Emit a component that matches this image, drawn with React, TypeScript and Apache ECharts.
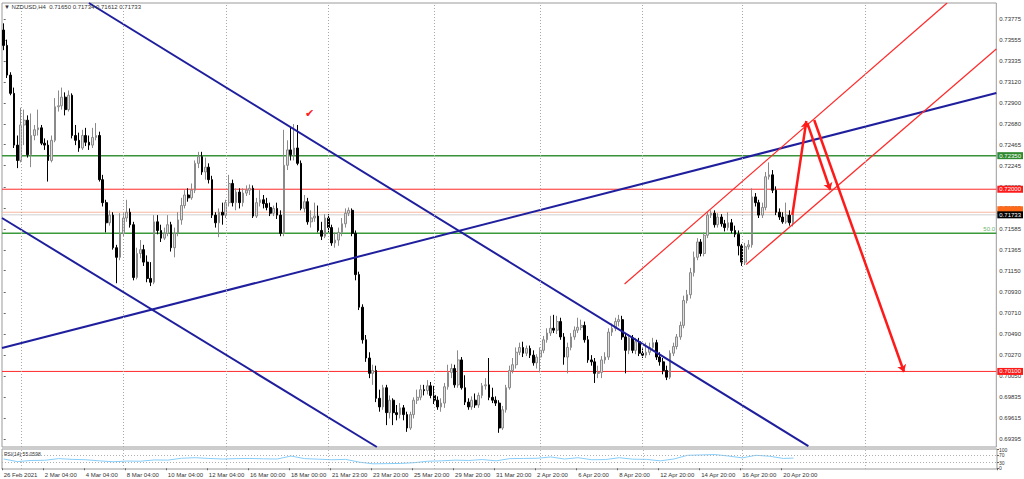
import React, { useEffect, useRef } from "react";
import * as echarts from "echarts";

// NZDUSD H4 candles, prices in pips (value / 10000)
const opens = [
  7366, 7350, 7319, 7300, 7246, 7230, 7267, 7272, 7236, 7256,
  7262, 7264, 7248, 7246, 7230, 7251, 7286, 7287, 7296, 7283,
  7298, 7256, 7251, 7243, 7256, 7249, 7246, 7254, 7256, 7210,
  7186, 7165, 7173, 7139, 7129, 7154, 7170, 7176, 7163, 7108,
  7133, 7137, 7124, 7107, 7103, 7166, 7157, 7149, 7154, 7163,
  7139, 7154, 7168, 7183, 7194, 7191, 7199, 7227, 7234, 7218,
  7223, 7210, 7173, 7165, 7176, 7173, 7186, 7206, 7186, 7197,
  7186, 7196, 7199, 7201, 7172, 7186, 7189, 7185, 7181, 7175,
  7180, 7173, 7154, 7225, 7241, 7236, 7243, 7227, 7180, 7187,
  7166, 7170, 7172, 7157, 7151, 7170, 7160, 7144, 7147, 7155,
  7164, 7175, 7178, 7154, 7111, 7077, 7043, 7024, 7008, 7011,
  6982, 6973, 6993, 6967, 6980, 6967, 6965, 6972, 6965, 6951,
  6965, 6980, 6983, 6991, 6990, 6995, 6985, 6980, 6973, 6977,
  6994, 7009, 7013, 6996, 7022, 6993, 6978, 6973, 6980, 6975,
  6985, 6995, 6996, 6983, 6980, 6977, 6951, 6970, 6993, 7011,
  7017, 7030, 7035, 7029, 7034, 7027, 7019, 7025, 7032, 7043,
  7050, 7055, 7053, 7062, 7046, 7025, 7035, 7046, 7053, 7056,
  7058, 7043, 7022, 7020, 7008, 7009, 7022, 7025, 7051, 7055,
  7062, 7064, 7046, 7032, 7045, 7032, 7041, 7029, 7027, 7030,
  7035, 7040, 7025, 7020, 7011, 7004, 7029, 7036, 7046, 7058,
  7084, 7090, 7113, 7129, 7145, 7133, 7152, 7173, 7175, 7163,
  7171, 7164, 7160, 7165, 7157, 7153, 7141, 7124, 7140, 7142,
  7192, 7186, 7173, 7181, 7213, 7215, 7199, 7176, 7171, 7166,
  7173, 7165,
];
const closes = [
  7350, 7319, 7300, 7246, 7230, 7267, 7272, 7236, 7256, 7262,
  7264, 7248, 7246, 7230, 7251, 7286, 7287, 7296, 7283, 7298,
  7256, 7251, 7243, 7256, 7249, 7246, 7254, 7256, 7210, 7186,
  7165, 7173, 7139, 7129, 7154, 7170, 7176, 7163, 7108, 7133,
  7137, 7124, 7107, 7103, 7166, 7157, 7149, 7154, 7163, 7139,
  7154, 7168, 7183, 7194, 7191, 7199, 7227, 7234, 7218, 7223,
  7210, 7173, 7165, 7176, 7173, 7186, 7206, 7186, 7197, 7186,
  7196, 7199, 7201, 7172, 7186, 7189, 7185, 7181, 7175, 7180,
  7173, 7154, 7225, 7241, 7236, 7243, 7227, 7180, 7187, 7166,
  7170, 7172, 7157, 7151, 7170, 7160, 7144, 7147, 7155, 7164,
  7175, 7178, 7154, 7111, 7077, 7043, 7024, 7008, 7011, 6982,
  6973, 6993, 6967, 6980, 6967, 6965, 6972, 6965, 6951, 6965,
  6980, 6983, 6991, 6990, 6995, 6985, 6980, 6973, 6977, 6994,
  7009, 7013, 6996, 7022, 6993, 6978, 6973, 6980, 6975, 6985,
  6995, 6996, 6983, 6980, 6977, 6951, 6970, 6993, 7011, 7017,
  7030, 7035, 7029, 7034, 7027, 7019, 7025, 7032, 7043, 7050,
  7055, 7053, 7062, 7046, 7025, 7035, 7046, 7053, 7056, 7058,
  7043, 7022, 7020, 7008, 7009, 7022, 7025, 7051, 7055, 7062,
  7064, 7046, 7032, 7045, 7032, 7041, 7029, 7027, 7030, 7035,
  7040, 7025, 7020, 7011, 7004, 7029, 7036, 7046, 7058, 7084,
  7090, 7113, 7129, 7145, 7133, 7152, 7173, 7175, 7163, 7171,
  7164, 7160, 7165, 7157, 7153, 7141, 7124, 7140, 7142, 7192,
  7186, 7173, 7181, 7213, 7215, 7199, 7176, 7171, 7166, 7173,
  7165, 7173.3,
];
const highs = [
  7373, 7356, 7322, 7306, 7256, 7285, 7283, 7277, 7279, 7267,
  7283, 7267, 7253, 7251, 7256, 7295, 7303, 7306, 7301, 7303,
  7300, 7267, 7259, 7262, 7264, 7256, 7264, 7269, 7260, 7215,
  7189, 7178, 7176, 7142, 7175, 7175, 7189, 7180, 7166, 7139,
  7147, 7142, 7131, 7124, 7173, 7173, 7163, 7160, 7173, 7166,
  7160, 7176, 7191, 7199, 7201, 7206, 7230, 7239, 7239, 7233,
  7227, 7214, 7176, 7180, 7186, 7189, 7215, 7210, 7201, 7201,
  7201, 7204, 7205, 7204, 7191, 7199, 7194, 7191, 7186, 7183,
  7186, 7178, 7262, 7251, 7264, 7268, 7267, 7230, 7194, 7191,
  7178, 7186, 7183, 7166, 7174, 7174, 7163, 7155, 7160, 7170,
  7180, 7181, 7180, 7157, 7114, 7080, 7048, 7030, 7017, 7016,
  6991, 6996, 6996, 6985, 6982, 6975, 6977, 6975, 6968, 6968,
  6983, 6991, 6996, 6996, 7001, 6999, 6995, 6984, 6982, 6998,
  7017, 7018, 7017, 7032, 7025, 7006, 6982, 6984, 6987, 6988,
  6998, 7003, 7024, 6993, 6984, 6980, 6974, 6996, 7016, 7024,
  7035, 7040, 7041, 7037, 7037, 7032, 7028, 7035, 7047, 7055,
  7068, 7069, 7068, 7066, 7050, 7040, 7050, 7057, 7066, 7064,
  7062, 7047, 7027, 7024, 7016, 7026, 7030, 7055, 7060, 7066,
  7069, 7068, 7050, 7049, 7048, 7045, 7045, 7034, 7040, 7040,
  7045, 7043, 7030, 7024, 7016, 7032, 7040, 7049, 7062, 7089,
  7095, 7118, 7135, 7149, 7148, 7155, 7176, 7178, 7178, 7175,
  7174, 7168, 7176, 7169, 7162, 7157, 7143, 7144, 7147, 7201,
  7196, 7189, 7186, 7218, 7228, 7220, 7203, 7180, 7176, 7186,
  7178, 7173.4,
];
const lows = [
  7345, 7316, 7298, 7243, 7222, 7228, 7246, 7233, 7223, 7251,
  7256, 7246, 7241, 7208, 7228, 7249, 7281, 7283, 7277, 7281,
  7253, 7246, 7239, 7241, 7245, 7241, 7243, 7251, 7208, 7182,
  7155, 7162, 7137, 7102, 7126, 7151, 7166, 7160, 7105, 7106,
  7128, 7120, 7103, 7099, 7101, 7153, 7145, 7147, 7151, 7135,
  7129, 7151, 7163, 7180, 7187, 7189, 7196, 7222, 7215, 7210,
  7206, 7170, 7160, 7150, 7163, 7170, 7182, 7182, 7178, 7180,
  7182, 7193, 7194, 7170, 7170, 7182, 7180, 7178, 7172, 7172,
  7169, 7151, 7151, 7220, 7230, 7230, 7225, 7178, 7176, 7163,
  7160, 7166, 7155, 7147, 7149, 7155, 7141, 7139, 7141, 7151,
  7160, 7172, 7151, 7105, 7074, 7039, 7020, 7003, 6996, 6978,
  6968, 6970, 6954, 6961, 6954, 6959, 6961, 6959, 6947, 6949,
  6961, 6976, 6980, 6985, 6986, 6982, 6976, 6970, 6968, 6972,
  6991, 7003, 6993, 6993, 6991, 6975, 6970, 6970, 6972, 6972,
  6982, 6991, 6980, 6977, 6974, 6946, 6949, 6967, 6991, 7008,
  7013, 7027, 7025, 7026, 7024, 7016, 7013, 7009, 7029, 7040,
  7047, 7050, 7049, 7043, 7017, 7008, 7032, 7043, 7050, 7053,
  7040, 7019, 7016, 6998, 7003, 7003, 7018, 7022, 7047, 7052,
  7057, 7043, 7008, 7028, 7029, 7028, 7026, 7024, 7024, 7027,
  7032, 7022, 7016, 7007, 7001, 7002, 7026, 7033, 7043, 7055,
  7081, 7086, 7109, 7126, 7130, 7130, 7149, 7170, 7160, 7160,
  7161, 7156, 7157, 7154, 7150, 7131, 7120, 7121, 7137, 7139,
  7182, 7170, 7170, 7178, 7210, 7196, 7173, 7168, 7164, 7164,
  7162, 7161.2,
];

// RSI(14) readings (bar index, value)
const rsiBars = [
  0, 4, 8, 12, 16, 20, 24, 28, 32, 36, 40, 44, 48, 52, 56, 60, 64, 68, 72, 76,
  80, 84, 88, 92, 96, 100, 104, 108, 112, 116, 120, 124, 128, 132, 136, 140,
  144, 148, 152, 156, 160, 164, 168, 172, 176, 180, 184, 188, 192, 196, 200,
  204, 208, 212, 216, 220, 224, 228, 231,
];
const rsiValues = [
  50, 36, 42, 43, 52, 48, 46, 40, 35, 39, 38, 45, 44, 54, 57, 53, 50, 52, 53, 51,
  50, 66, 52, 49, 46, 48, 33, 24, 25, 26, 30, 38, 40, 44, 42, 47, 40, 52, 53, 54,
  61, 50, 57, 46, 47, 57, 49, 48, 40, 50, 70, 72, 74, 66, 56, 70, 65, 53, 55.06,
];

const timeLabels = [
  "26 Feb 2021", "2 Mar 04:00", "4 Mar 04:00", "8 Mar 04:00", "10 Mar 04:00",
  "12 Mar 04:00", "16 Mar 00:00", "18 Mar 00:00", "21 Mar 23:00", "23 Mar 20:00",
  "25 Mar 20:00", "29 Mar 20:00", "31 Mar 20:00", "2 Apr 20:00", "6 Apr 20:00",
  "8 Apr 20:00", "12 Apr 20:00", "14 Apr 20:00", "16 Apr 20:00", "20 Apr 20:00",
];
const labelEvery = 12;

const priceTicks = [
  0.73775, 0.73555, 0.73335, 0.7312, 0.729, 0.7268, 0.72465, 0.72245, 0.72025,
  0.71805, 0.71585, 0.71365, 0.7115, 0.7093, 0.7071, 0.7049, 0.7027, 0.7005,
  0.69835, 0.69615, 0.69395,
];
const rsiTicks = [0, 30, 70, 100];
const rsiLevels = [30, 70];

// weekly separators (bar index)
const weekBars = [5, 35, 65, 95, 126, 157, 187, 216, 252];

// horizontal levels
const levelGreenTop = 0.7235;
const levelRedTop = 0.72;
const levelOrange = 0.7176;
const levelBid = 0.71733;
const levelGreenFib = 0.7154;
const levelRedLow = 0.701;

// trend lines: [bar index, price]
const blueDownUpper = [[24.94, 0.73942], [235.5, 0.69322]];
const blueDownLower = [[-0.5, 0.717], [109.2, 0.69312]];
const blueRising = [[-0.5, 0.70344], [290.5, 0.73003]];
const redChannelUpper = [[181.7, 0.71011], [276.1, 0.73942]];
const redChannelLower = [[217.3, 0.71215], [290.5, 0.73462]];
const arrowUp = [[230.8, 0.71731], [234.9, 0.72711]];
const arrowDownShort = [[235.2, 0.7269], [241.9, 0.71992]];
const arrowDownLong = [[237.2, 0.72722], [263.5, 0.70094]];
const checkMark = [89.6, 0.72795];

const slotCount = 291;
const priceMin = 0.69312;
const priceMax = 0.73942;

export default function App() {
  const ref = useRef<HTMLDivElement>(null);
  useEffect(() => {
    document.body.style.margin = "0";
    const chart = echarts.init(ref.current!, null, { renderer: "svg" });
    const font = "'Liberation Sans', Arial, sans-serif";
    const slots = Array.from({ length: slotCount }, (_, i) => String(i));
    const candles = opens.map((o, i) => [o / 1e4, closes[i] / 1e4, lows[i] / 1e4, highs[i] / 1e4]);
    const showTime = (i: number) => i % labelEvery === 0 && i / labelEvery < timeLabels.length;
    const xFirst = -0.5;
    const xLast = slotCount - 0.5;

    const seg = (pts: number[][], color: string, width: number) => ({
      type: "line",
      xAxisIndex: 1,
      yAxisIndex: 0,
      data: pts,
      symbol: "none",
      clip: true,
      silent: true,
      z: 4,
      lineStyle: { color, width },
    });

    const tag = (text: string, bg: string) => ({
      show: true,
      formatter: text,
      color: "#fff",
      backgroundColor: bg,
      fontSize: 6,
      fontFamily: font,
      padding: [1, 2, 0, 2],
      distance: 1,
    });

    const level = (price: number, color: string, width: number, endLabel: any) => ({
      type: "line",
      xAxisIndex: 1,
      yAxisIndex: 0,
      data: [
        [xFirst, price],
        [xLast, price],
      ],
      symbol: "none",
      clip: false,
      silent: true,
      z: 2,
      lineStyle: { color, width },
      endLabel,
    });

    const arrowStyle = { color: "#ff1a1a", width: 2.5, type: "solid" };

    const option: any = {
      animation: false,
      backgroundColor: "#ffffff",
      title: [
        {
          text: "▼ NZDUSD,H4  0.71650 0.71734 0.71612 0.71733",
          left: 4,
          top: 4,
          padding: 0,
          textStyle: { fontSize: 6, fontWeight: "normal", color: "#333", fontFamily: font },
        },
        {
          text: "RSI(14) 55.0598",
          left: 4,
          top: 451,
          padding: 0,
          textStyle: { fontSize: 5, fontWeight: "normal", color: "#333", fontFamily: font },
        },
      ],
      grid: [
        { left: 2, right: 27, top: 3, height: 444, show: true, borderColor: "#9a9a9a", borderWidth: 1 },
        { left: 2, right: 27, top: 449, height: 20, show: true, borderColor: "#9a9a9a", borderWidth: 1 },
      ],
      xAxis: [
        {
          type: "category",
          gridIndex: 0,
          data: slots,
          boundaryGap: true,
          axisLine: { show: false },
          axisTick: { show: false },
          axisLabel: { show: false },
          splitLine: { show: false },
        },
        { type: "value", gridIndex: 0, min: xFirst, max: xLast, show: false },
        {
          type: "category",
          gridIndex: 1,
          data: slots,
          boundaryGap: true,
          axisLine: { show: false },
          axisTick: {
            show: true,
            interval: (i: number) => showTime(i),
            length: 2,
            lineStyle: { color: "#666" },
          },
          axisLabel: {
            interval: (i: number) => showTime(i),
            formatter: (_v: string, i: number) => timeLabels[i / labelEvery] ?? "",
            align: "left",
            fontSize: 6,
            color: "#333",
            margin: 3,
            fontFamily: font,
          },
          splitLine: { show: false },
        },
      ],
      yAxis: [
        {
          type: "value",
          gridIndex: 0,
          position: "right",
          min: priceMin,
          max: priceMax,
          splitLine: { show: false },
          axisLine: { show: false },
          axisTick: { show: true, customValues: priceTicks, length: 2, lineStyle: { color: "#666" } },
          axisLabel: {
            customValues: priceTicks,
            formatter: (v: number) => v.toFixed(5),
            fontSize: 6,
            color: "#333",
            margin: 3,
            fontFamily: font,
          },
        },
        {
          type: "value",
          gridIndex: 1,
          position: "right",
          min: -4,
          max: 104,
          splitLine: { show: false },
          axisLine: { show: false },
          axisTick: { show: true, customValues: rsiTicks, length: 2, lineStyle: { color: "#666" } },
          axisLabel: { customValues: rsiTicks, fontSize: 5, color: "#333", margin: 2, fontFamily: font },
        },
      ],
      series: [
        {
          type: "line",
          xAxisIndex: 1,
          yAxisIndex: 0,
          data: [],
          silent: true,
          z: 1,
          markLine: {
            silent: true,
            precision: 5,
            symbol: ["none", "none"],
            label: { show: false },
            lineStyle: { color: "#a8a8a8", width: 1, type: [1, 2] },
            data: weekBars.map((b) => ({ xAxis: b })),
          },
        },
        {
          type: "candlestick",
          xAxisIndex: 0,
          yAxisIndex: 0,
          data: candles,
          barWidth: 2.2,
          z: 3,
          itemStyle: {
            color: "#dedede",
            borderColor: "#8a8a8a",
            color0: "#000000",
            borderColor0: "#000000",
            borderWidth: 1,
          },
        },
        level(levelGreenTop, "#3a933a", 1.5, tag("0.72350", "#2f8a2f")),
        level(levelRedTop, "#ff2a2a", 1, tag("0.72000", "#ff1a1a")),
        level(levelOrange, "#f7b79e", 1, { ...tag(" ", "#ff6a1a"), padding: [1, 12, 1, 12], offset: [0, -2] }),
        level(levelBid, "#cfcfcf", 1, tag("0.71733", "#000000")),
        level(levelGreenFib, "#3a9a3a", 1.5, {
          show: true,
          formatter: "50.0",
          color: "#6bb56b",
          fontSize: 6,
          fontFamily: font,
          distance: 0,
          offset: [-13, -4],
        }),
        level(levelRedLow, "#ff2a2a", 1, tag("0.70100", "#ff1a1a")),
        seg(blueDownUpper, "#1f1f9e", 2),
        seg(blueDownLower, "#1f1f9e", 2),
        seg(blueRising, "#1f1f9e", 2),
        seg(redChannelUpper, "#ff2a2a", 1.2),
        {
          ...seg(redChannelLower, "#ff2a2a", 1.2),
          markLine: {
            silent: true,
            precision: 5,
            symbol: ["none", "arrow"],
            symbolSize: 7,
            label: { show: false },
            lineStyle: arrowStyle,
            data: [arrowUp, arrowDownShort, arrowDownLong].map((a) => [
              { coord: a[0], lineStyle: arrowStyle },
              { coord: a[1] },
            ]),
          },
          markPoint: {
            silent: true,
            symbol: "rect",
            symbolSize: 1,
            itemStyle: { color: "rgba(0,0,0,0)" },
            label: { show: true, position: "inside", formatter: "✔", color: "#ff2020", fontSize: 11 },
            data: [{ coord: checkMark }],
          },
        },
        {
          type: "line",
          xAxisIndex: 2,
          yAxisIndex: 1,
          data: rsiBars.map((b, k) => [b, rsiValues[k]]),
          symbol: "none",
          silent: true,
          lineStyle: { color: "#87cefa", width: 1 },
          markLine: {
            silent: true,
            precision: 5,
            symbol: ["none", "none"],
            label: { show: false },
            lineStyle: { color: "#b0b0b0", width: 1, type: [1, 2] },
            data: [
              ...rsiLevels.map((v) => ({ yAxis: v })),
              ...weekBars.map((b) => ({ xAxis: b })),
            ],
          },
        },
      ],
    };
    chart.setOption(option);
    return () => chart.dispose();
  }, []);
  return <div ref={ref} style={{ width: 1024, height: 479 }} />;
}
